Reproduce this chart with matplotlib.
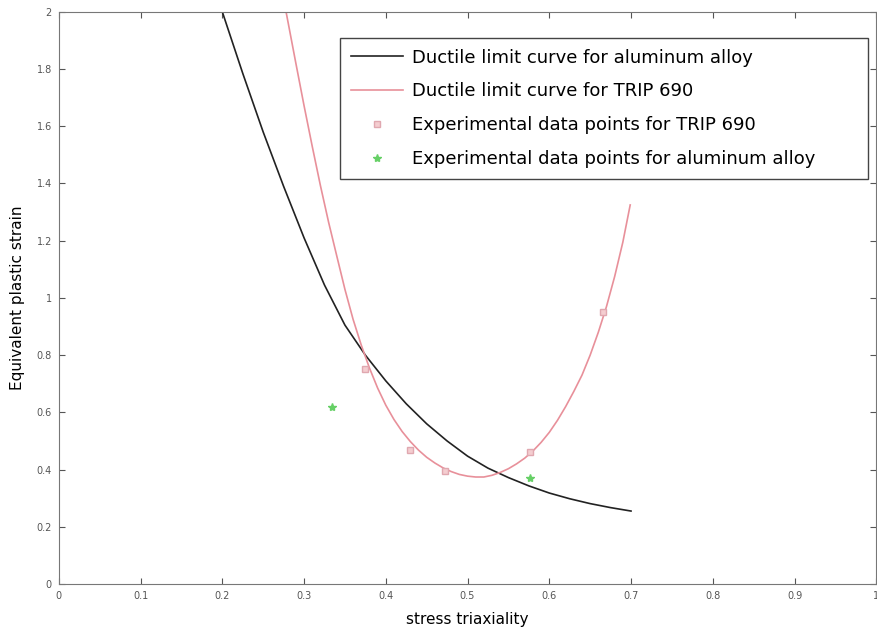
import matplotlib
matplotlib.use('Agg')
import matplotlib.pyplot as plt

# ductile limit curves
al_x = [0.200, 0.225, 0.250, 0.275, 0.300, 0.325, 0.350, 0.375, 0.400, 0.425, 0.450,
        0.475, 0.500, 0.525, 0.550, 0.575, 0.600, 0.625, 0.650, 0.675, 0.700]
al_y = [2.000, 1.785, 1.580, 1.390, 1.210, 1.045, 0.905, 0.800, 0.710, 0.630, 0.560,
        0.500, 0.447, 0.405, 0.372, 0.343, 0.318, 0.298, 0.281, 0.267, 0.255]

trip_x = [0.278, 0.290, 0.300, 0.310, 0.320, 0.330, 0.340, 0.350, 0.360, 0.370, 0.380,
          0.390, 0.400, 0.410, 0.420, 0.430, 0.440, 0.450, 0.460, 0.470, 0.480, 0.490,
          0.500, 0.510, 0.520, 0.530, 0.540, 0.550, 0.560, 0.570, 0.580, 0.590, 0.600,
          0.610, 0.620, 0.630, 0.640, 0.650, 0.660, 0.670, 0.680, 0.690, 0.699]
trip_y = [2.000, 1.820, 1.672, 1.530, 1.393, 1.265, 1.147, 1.030, 0.925, 0.835, 0.755,
          0.685, 0.625, 0.575, 0.533, 0.498, 0.468, 0.443, 0.423, 0.406, 0.393, 0.383,
          0.377, 0.374, 0.374, 0.380, 0.390, 0.403, 0.420, 0.440, 0.465, 0.495, 0.530,
          0.572, 0.620, 0.673, 0.730, 0.800, 0.880, 0.970, 1.075, 1.195, 1.325]

# experimental points
trip_pts_x = [0.375, 0.430, 0.473, 0.577, 0.666]
trip_pts_y = [0.750, 0.470, 0.395, 0.460, 0.950]
al_pts_x = [0.334, 0.577]
al_pts_y = [0.620, 0.370]

xticks = [0, 0.1, 0.2, 0.3, 0.4, 0.5, 0.6, 0.7, 0.8, 0.9, 1]
xticklabels = ['0', '0.1', '0.2', '0.3', '0.4', '0.5', '0.6', '0.7', '0.8', '0.9', '1']
yticks = [0, 0.2, 0.4, 0.6, 0.8, 1, 1.2, 1.4, 1.6, 1.8, 2]
yticklabels = ['0', '0.2', '0.4', '0.6', '0.8', '1', '1.2', '1.4', '1.6', '1.8', '2']

fig = plt.figure(figsize=(8.78, 6.4), dpi=100)
ax = fig.add_axes([0.067, 0.0875, 0.931, 0.894])

ax.plot(al_x, al_y, '-', color='#222222', lw=1.2, label='Ductile limit curve for aluminum alloy')
ax.plot(trip_x, trip_y, '-', color='#e8909a', lw=1.2, label='Ductile limit curve for TRIP 690')
ax.plot(trip_pts_x, trip_pts_y, 's', color='#e0a8b0', mfc='#f4cdd0', ms=4,
        label='Experimental data points for TRIP 690')
ax.plot(al_pts_x, al_pts_y, '*', color='#66d066', ms=6,
        label='Experimental data points for aluminum alloy')

ax.set_xlim(0, 1)
ax.set_ylim(0, 2)
ax.set_xticks(xticks)
ax.set_xticklabels(xticklabels)
ax.set_yticks(yticks)
ax.set_yticklabels(yticklabels)
ax.tick_params(direction='in', top=True, right=True, labelsize=7, colors='#555555',
               length=4, pad=5)
for s in ax.spines.values():
    s.set_color('#777777')

ax.set_xlabel('stress triaxiality', fontsize=11, labelpad=8)
ax.set_ylabel('Equivalent plastic strain', fontsize=11, labelpad=8)

leg = ax.legend(loc='upper left', bbox_to_anchor=(0.344, 0, 0.646, 0.9545), mode='expand',
                fontsize=13, fancybox=False, edgecolor='#444444', framealpha=1,
                handlelength=2.9, handletextpad=0.5, labelspacing=0.87,
                borderpad=0.6, borderaxespad=0)

fig.savefig('out.png', dpi=100)
